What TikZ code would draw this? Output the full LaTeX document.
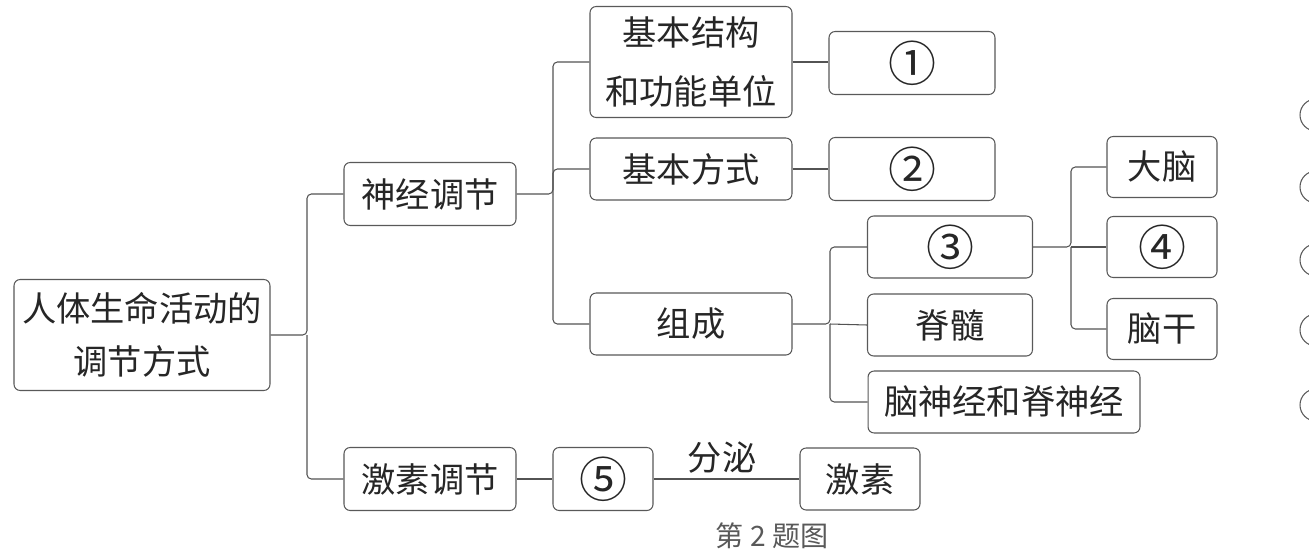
\documentclass[tikz,border=0pt]{standalone}
\usepackage{fontspec}
\newfontfamily\cjk{Noto Sans CJK SC}
\usetikzlibrary{positioning,calc}
\newcommand\circnum[1]{\scalebox{1.4}{#1}}
\tikzset{
 diagram/.style={x=0.02cm,y=-0.02cm,line width=0.6pt},
 box/.style={rectangle,draw=gray!70!black,rounded corners=3.5pt,inner sep=0pt,
   align=center,text=black!85,font=\cjk\fontsize{19.5}{30}\selectfont},
 box root/.style={box,minimum width=5.12cm,minimum height=2.22cm},
 box mid/.style={box,minimum width=3.44cm,minimum height=1.26cm},
 box tall/.style={box,minimum width=4.04cm,minimum height=2.22cm,
   font=\cjk\fontsize{19.5}{34}\selectfont},
 box part/.style={box,minimum width=4.04cm,minimum height=1.24cm},
 box blank/.style={box,minimum width=3.32cm,minimum height=1.26cm},
 box brain/.style={box,minimum width=2.2cm,minimum height=1.22cm},
 link/.style={draw=gray!65!black,rounded corners=2.5pt},
 caption/.style={text=gray!70!black,font=\cjk\fontsize{16}{18}\selectfont},
 edge label/.style={text=black!85,font=\cjk\fontsize{19.5}{22}\selectfont}
}
\begin{document}
\begin{tikzpicture}[diagram]
  \useasboundingbox[fill=white] (0,0) rectangle (1309,554);
  % first level
  \node[box root] (root) at (142,335) {人体生命活动的\\调节方式};
  \node[box mid] (shen) at (430,194) {神经调节};
  \node[box mid] (jisu) at (430,479) {激素调节};
  % nerve branch
  \node[box tall] (unit) at (691,62) {基本结构\\和功能单位};
  \node[box part] (way) at (691,169) {基本方式};
  \node[box part] (make) at (691,324) {组成};
  \node[box blank] (q1) at (912,63) {\circnum{①}};
  \node[box blank] (q2) at (912,169) {\circnum{②}};
  \node[box,minimum width=3.3cm,minimum height=1.24cm] (q3) at (950,247) {\circnum{③}};
  \node[box,minimum width=3.3cm,minimum height=1.24cm] (cord) at (950,325) {脊髓};
  \node[box,minimum width=5.44cm,minimum height=1.24cm] (nerves) at (1004,402) {脑神经和脊神经};
  \node[box brain] (dana) at (1162,167) {大脑};
  \node[box brain] (q4) at (1162,247) {\circnum{④}};
  \node[box brain] (nao) at (1162,329) {脑干};
  % hormone branch
  \node[box,minimum width=2cm,minimum height=1.26cm] (q5) at (603,479) {\circnum{⑤}};
  \node[box,minimum width=2.4cm,minimum height=1.24cm] (horm) at (860,479) {激素};
  \node[edge label] (secrete) at (722,458) {分泌};
  \node[caption] (cap) at (772,536) {第 2 题图};
  % connectors
  \coordinate (b1) at (307,335);
  \coordinate (b2) at (553,194);
  \coordinate (b3) at (830,324);
  \coordinate (b4) at (1071,247);
  \draw[link] (root.east) -- (b1) |- (shen.west);
  \draw[link] (b1) |- (jisu.west);
  \draw[link] (shen.east) -- (b2) |- (unit.west);
  \draw[link] (b2) |- (way.west);
  \draw[link] (b2) |- (make.west);
  \draw[link] (unit.east) -- (unit.east -| q1.west);
  \draw[link] (way.east) -- (q2.west);
  \draw[link] (make.east) -- (b3) |- (q3.west);
  \draw[link] (b3) -- (cord.west);
  \draw[link] (b3) |- (nerves.west);
  \draw[link] (q3.east) -- (b4) |- (dana.west);
  \draw[link] (b4) -- (q4.west);
  \draw[link] (b4) |- (nao.west);
  \draw[link] (jisu.east) -- (q5.west);
  \draw[link] (q5.east) -- (horm.west);
  % cut-off circles at the right edge
  \begin{scope}
    \clip (0,0) rectangle (1309,554);
    \foreach \yy in {115,187,260,330,405}
      \draw[gray!70!black] (1316,\yy) circle[radius=0.32cm];
  \end{scope}
\end{tikzpicture}
\end{document}
